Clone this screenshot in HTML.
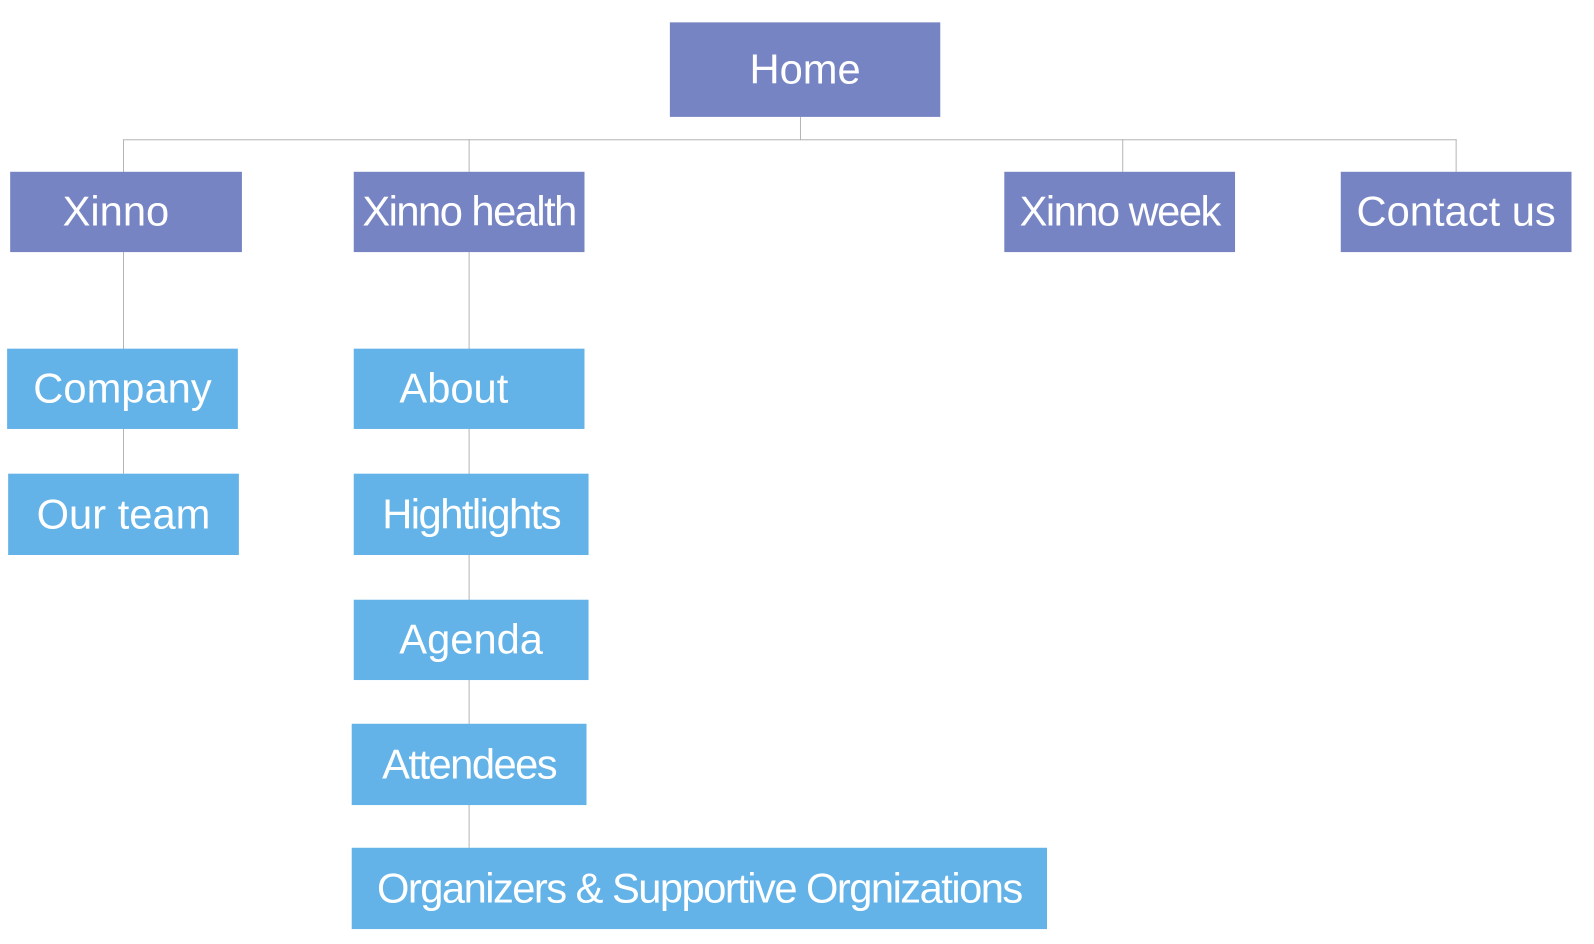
<!DOCTYPE html>
<html>
<head>
<meta charset="utf-8">
<style>
  html,body{margin:0;padding:0;background:#fff;}
  #wrap{position:relative;width:1594px;height:944px;overflow:hidden;}
  #root{position:absolute;left:0;top:0;width:1580px;height:930px;transform:scale(1.0165);transform-origin:0 0;font-family:"Liberation Sans",sans-serif;}
  .box{position:absolute;color:#fff;display:flex;align-items:center;justify-content:center;font-size:41px;white-space:nowrap;box-sizing:border-box;}
  .p{background:#7784C4;}
  .b{background:#63B3E8;}
  .ln{position:absolute;background:#b5b5b5;}
  .tight{letter-spacing:-1.5px;}
</style>
</head>
<body>
<div id="wrap">
<div id="root">
  <div class="ln" style="left:787px;top:115px;width:1px;height:23px;"></div>
  <div class="ln" style="left:121px;top:137px;width:1312px;height:1px;"></div>
  <div class="ln" style="left:121px;top:137px;width:1px;height:32px;"></div>
  <div class="ln" style="left:461px;top:137px;width:1px;height:32px;"></div>
  <div class="ln" style="left:1104px;top:137px;width:1px;height:32px;"></div>
  <div class="ln" style="left:1432px;top:137px;width:1px;height:32px;"></div>
  <div class="ln" style="left:121px;top:248px;width:1px;height:218px;"></div>
  <div class="ln" style="left:461px;top:248px;width:1px;height:586px;"></div>

  <div class="box p" style="left:659px;top:22px;width:266px;height:93px;">Home</div>
  <div class="box p" style="left:10px;top:169px;width:228px;height:79px;padding-right:20px;">Xinno</div>
  <div class="box p tight" style="left:348px;top:169px;width:227px;height:79px;">Xinno health</div>
  <div class="box p tight" style="left:988px;top:169px;width:227px;height:79px;">Xinno week</div>
  <div class="box p" style="left:1319px;top:169px;width:227px;height:79px;">Contact us</div>

  <div class="box b" style="left:7px;top:343px;width:227px;height:79px;">Company</div>
  <div class="box b" style="left:8px;top:466px;width:227px;height:80px;">Our team</div>

  <div class="box b" style="left:348px;top:343px;width:227px;height:79px;padding-right:30px;">About</div>
  <div class="box b tight" style="left:348px;top:466px;width:231px;height:80px;">Hightlights</div>
  <div class="box b" style="left:348px;top:590px;width:231px;height:79px;">Agenda</div>
  <div class="box b tight" style="left:346px;top:712px;width:231px;height:80px;">Attendees</div>
  <div class="box b tight" style="left:346px;top:834px;width:684px;height:80px;">Organizers &amp; Supportive Orgnizations</div>
</div>
</div>
</body>
</html>
